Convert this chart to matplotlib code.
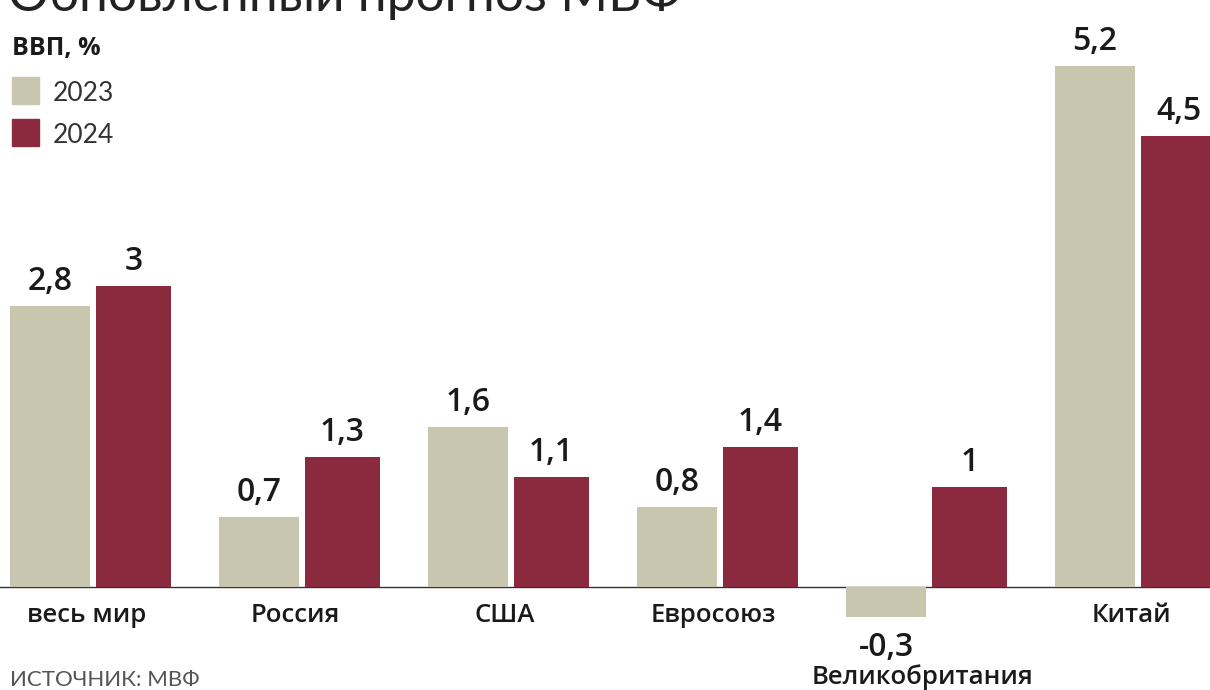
import matplotlib.pyplot as plt
import numpy as np

# данные прогноза МВФ, ВВП %
countries = ['весь мир', 'Россия', 'США', 'Евросоюз', 'Великобритания', 'Китай']
gdp_2023 = [2.8, 0.7, 1.6, 0.8, -0.3, 5.2]
gdp_2024 = [3.0, 1.3, 1.1, 1.4, 1.0, 4.5]
years = ['2023', '2024']

c23 = '#c8c6ae'
c24 = '#8b2a3e'

def fmt(v):
    s = ('%.1f' % v).rstrip('0').rstrip('.')
    return s.replace('.', ',')

fig = plt.figure(figsize=(12.1, 6.9), dpi=100)
ax = fig.add_axes([0, 0, 1, 1])
ax.set_xlim(-0.445, 5.344)
ax.set_ylim(-1.028, 5.858)
ax.axis('off')

x = np.arange(len(countries))
ax.bar(x - 0.206, gdp_2023, width=0.383, color=c23, zorder=2)
ax.bar(x + 0.194, gdp_2024, width=0.359, color=c24, zorder=2)
ax.axhline(0, color='#333333', lw=1, zorder=1)

lab_font = dict(family='Open Sans', weight='semibold', color='#1a1a1a')
for i in range(len(countries)):
    for xx, v in [(x[i] - 0.206, gdp_2023[i]), (x[i] + 0.194, gdp_2024[i])]:
        if v >= 0:
            ax.text(xx, v + 0.16, fmt(v), ha='center', va='baseline', fontsize=23, **lab_font)
        else:
            ax.text(xx, v - 0.39, fmt(v), ha='center', va='baseline', fontsize=23, **lab_font)
    ypos = -0.35 if gdp_2023[i] >= 0 else -0.97
    ax.text(x[i] - 0.03, ypos, countries[i], ha='center', va='baseline', fontsize=18.5, **lab_font)

# заголовок и подписи
fig.text(8 / 1210, 1 - 11 / 690, 'Обновленный прогноз МВФ', fontsize=37, family='Lato',
         color='#222222', va='baseline')
fig.text(12 / 1210, 1 - 55 / 690, 'ВВП, %', fontsize=18, family='Open Sans', weight='bold',
         color='#1a1a1a', va='baseline')
for k, (yr, col) in enumerate(zip(years, [c23, c24])):
    top = 77 + k * 42
    fig.patches.append(plt.Rectangle((12 / 1210, 1 - (top + 27) / 690), 27 / 1210, 27 / 690,
                                     transform=fig.transFigure, color=col))
    fig.text(53 / 1210, 1 - (top + 24) / 690, yr, fontsize=19, family='Lato',
             color='#333333', va='baseline')

fig.text(10 / 1210, 1 - 686 / 690, 'ИСТОЧНИК: МВФ', fontsize=16, family='Lato',
         color='#555555', va='baseline')

fig.savefig('out.png', dpi=100)
